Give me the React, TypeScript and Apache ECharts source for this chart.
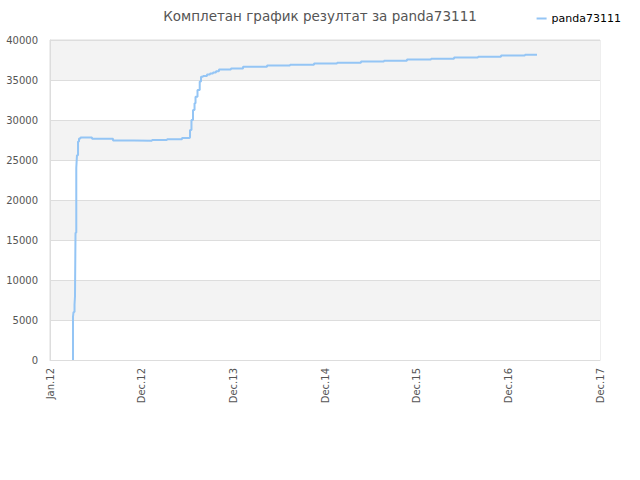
import React, { useEffect, useRef } from "react";
import * as echarts from "echarts";

// x = months since Jan.12 (tick labels evenly spaced every 12 units)
const xTickLabels = ["Jan.12", "Dec.12", "Dec.13", "Dec.14", "Dec.15", "Dec.16", "Dec.17"];
const monthsX = [
  3.01, 3.01, 3.08, 3.21, 3.27, 3.34, 3.44, 3.53, 3.67, 3.8, 3.99, 5.5, 8.25, 11.0, 13.35,
  15.32, 17.28, 18.2, 18.33, 18.52, 18.72, 18.92, 19.05, 19.31, 19.6, 19.77, 20.03, 20.55,
  20.95, 21.34, 21.73, 22.12, 23.69, 25.27, 28.41, 31.42, 34.56, 37.58, 40.71, 43.72, 46.73,
  49.88, 52.89, 56.03, 59.04, 62.18, 63.75,
];
const scoreValues = [
  0, 5400, 6000, 6900, 7900, 15900, 24000, 25600, 27300, 27700, 27800, 27650, 27450, 27400,
  27500, 27600, 27750, 27800, 28750, 30000, 31250, 32100, 32900, 33750, 34800, 35400, 35500,
  35700, 35800, 35950, 36100, 36300, 36450, 36650, 36800, 36900, 37050, 37150, 37300, 37400,
  37550, 37650, 37800, 37900, 38050, 38150, 38150,
];
const seriesName = "panda73111";
const titleText = "Комплетан график резултат за panda73111";

export default function App() {
  const ref = useRef<HTMLDivElement>(null);
  useEffect(() => {
    if (!ref.current) return;
    const chart = echarts.init(ref.current, null, { renderer: "svg" });
    chart.setOption({
      animation: false,
      backgroundColor: "#ffffff",
      title: {
        text: titleText,
        left: "center",
        top: 4,
        textStyle: { fontFamily: "DejaVu Sans", fontSize: 13.5, fontWeight: "normal", color: "#555555" },
      },
      legend: {
        right: 14,
        top: 8,
        icon: "rect",
        itemWidth: 10,
        itemHeight: 2,
        textStyle: { fontFamily: "DejaVu Sans", fontSize: 11, color: "#000000" },
        data: [seriesName],
      },
      grid: {
        left: 50,
        right: 40,
        top: 40,
        bottom: 120,
        show: true,
        borderColor: "#dddddd",
        borderWidth: 1,
      },
      xAxis: {
        type: "value",
        min: 0,
        max: 72,
        interval: 12,
        axisLine: { show: true, lineStyle: { color: "#dddddd" } },
        axisTick: { show: false },
        splitLine: { show: false },
        axisLabel: {
          rotate: 90,
          margin: 8,
          color: "#555555",
          fontFamily: "DejaVu Sans",
          fontSize: 10,
          formatter: (v: number) => xTickLabels[Math.round(v / 12)] ?? "",
        },
      },
      yAxis: {
        type: "value",
        min: 0,
        max: 40000,
        interval: 5000,
        axisLine: { show: true, lineStyle: { color: "#dddddd" } },
        axisTick: { show: false },
        splitLine: { show: true, lineStyle: { color: "#dddddd" } },
        splitArea: { show: true, areaStyle: { color: ["#ffffff", "#f3f3f3"] } },
        axisLabel: {
          color: "#555555",
          fontFamily: "DejaVu Sans",
          fontSize: 10,
          margin: 12,
          formatter: (v: number) => String(v),
        },
      },
      series: [
        {
          name: seriesName,
          type: "line",
          step: "end",
          showSymbol: false,
          symbol: "none",
          data: monthsX.map((x, i) => [x, scoreValues[i]]),
          lineStyle: { color: "#94c5f5", width: 2 },
          itemStyle: { color: "#94c5f5" },
        },
      ],
    });
    return () => chart.dispose();
  }, []);
  return <div ref={ref} style={{ position: "fixed", left: 0, top: 0, width: 640, height: 480 }} />;
}
